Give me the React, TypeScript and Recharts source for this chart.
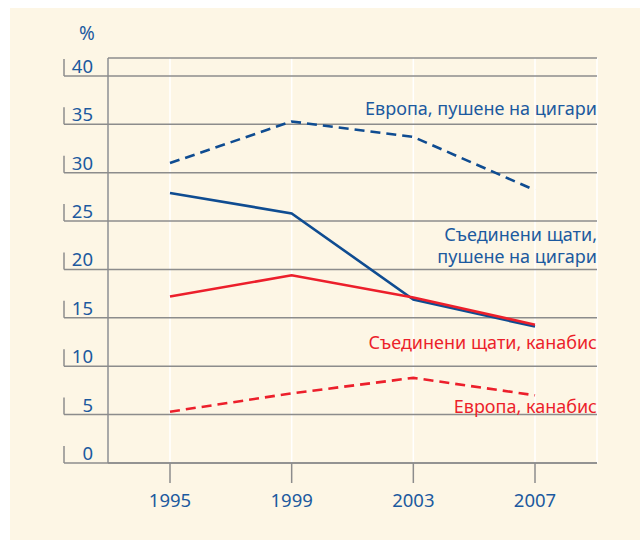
import { LineChart, Line, XAxis, YAxis, CartesianGrid, Customized } from 'recharts';

const years = ['1995', '1999', '2003', '2007'];
const europeSmoking = [31.0, 35.3, 33.7, 28.2];
const usSmoking = [27.9, 25.8, 16.9, 14.1];
const usCannabis = [17.2, 19.4, 17.1, 14.3];
const europeCannabis = [5.3, 7.2, 8.8, 7.0];
const yTicks = [0, 5, 10, 15, 20, 25, 30, 35, 40];

const data = years.map((year, i) => ({
  year,
  europeSmoking: europeSmoking[i],
  usSmoking: usSmoking[i],
  usCannabis: usCannabis[i],
  europeCannabis: europeCannabis[i],
}));

const BLUE = '#0f4c91';
const BLUE_TEXT = '#1c5a9f';
const RED = '#ec1f2b';
const GRAY = '#8c8c8c';
const CREAM = '#fdf6e5';
const FONT = "'Noto Sans', sans-serif";

const PLOT_LEFT = 108;
const PLOT_RIGHT = 597;
const PLOT_BOTTOM = 463;

function YTick({ y, payload }: any) {
  return (
    <g>
      <line x1={64} x2={PLOT_LEFT} y1={y} y2={y} stroke={GRAY} strokeWidth={1.5} />
      <line x1={64} x2={64} y1={y - 17} y2={y} stroke={GRAY} strokeWidth={1.5} />
      <text x={93} y={y - 3} textAnchor="end" fontSize={18.5} fill={BLUE_TEXT} fontFamily={FONT}>
        {payload.value}
      </text>
    </g>
  );
}

function XTick({ x, payload }: any) {
  return (
    <g>
      <line x1={x} x2={x} y1={PLOT_BOTTOM} y2={PLOT_BOTTOM + 20} stroke={GRAY} strokeWidth={1.5} />
      <text x={x} y={PLOT_BOTTOM + 44} textAnchor="middle" fontSize={18.5} fill={BLUE_TEXT} fontFamily={FONT}>
        {payload.value}
      </text>
    </g>
  );
}

function SeriesLabels() {
  const t = { textAnchor: 'end' as const, fontSize: 18, fontFamily: FONT };
  return (
    <g>
      <text x={87} y={40} textAnchor="middle" fontSize={19} fill={BLUE_TEXT} fontFamily={FONT}>%</text>
      <text x={PLOT_RIGHT} y={115} fill={BLUE_TEXT} {...t}>Европа, пушене на цигари</text>
      <text x={PLOT_RIGHT} y={241} fill={BLUE_TEXT} {...t}>Съединени щати,</text>
      <text x={PLOT_RIGHT} y={263} fill={BLUE_TEXT} {...t}>пушене на цигари</text>
      <text x={PLOT_RIGHT} y={349} fill={RED} {...t}>Съединени щати, канабис</text>
      <text x={PLOT_RIGHT} y={413} fill={RED} {...t}>Европа, канабис</text>
    </g>
  );
}

export default function App() {
  return (
    <div style={{ position: 'absolute', left: 0, top: 0, width: 640, height: 540, background: '#fff' }}>
      <div style={{ position: 'absolute', left: 10, top: 8, width: 630, height: 532, background: CREAM }} />
      <div style={{ position: 'absolute', left: 0, top: 0 }}>
        <LineChart width={640} height={540} data={data} margin={{ top: 58, right: 640 - PLOT_RIGHT, bottom: 37, left: 48 }}>
          <CartesianGrid horizontal={false} stroke="#ffffff" strokeWidth={1.5} />
          <CartesianGrid vertical={false} stroke={GRAY} strokeWidth={1.5} />
          <XAxis
            dataKey="year"
            height={40}
            padding={{ left: 62, right: 62 }}
            axisLine={{ stroke: GRAY, strokeWidth: 1.5 }}
            tickLine={false}
            tick={<XTick />}
            interval={0}
          />
          <YAxis
            width={60}
            domain={[0, 41.86]}
            ticks={yTicks}
            axisLine={{ stroke: GRAY, strokeWidth: 1.5 }}
            tickLine={false}
            tick={<YTick />}
            interval={0}
          />
          <Line dataKey="europeSmoking" stroke={BLUE} strokeWidth={2.6} strokeDasharray="10 6" dot={false} isAnimationActive={false} />
          <Line dataKey="usSmoking" stroke={BLUE} strokeWidth={2.6} dot={false} isAnimationActive={false} />
          <Line dataKey="europeCannabis" stroke={RED} strokeWidth={2.6} strokeDasharray="10 6" dot={false} isAnimationActive={false} />
          <Line dataKey="usCannabis" stroke={RED} strokeWidth={2.6} dot={false} isAnimationActive={false} />
          <Customized component={SeriesLabels} />
        </LineChart>
      </div>
    </div>
  );
}
